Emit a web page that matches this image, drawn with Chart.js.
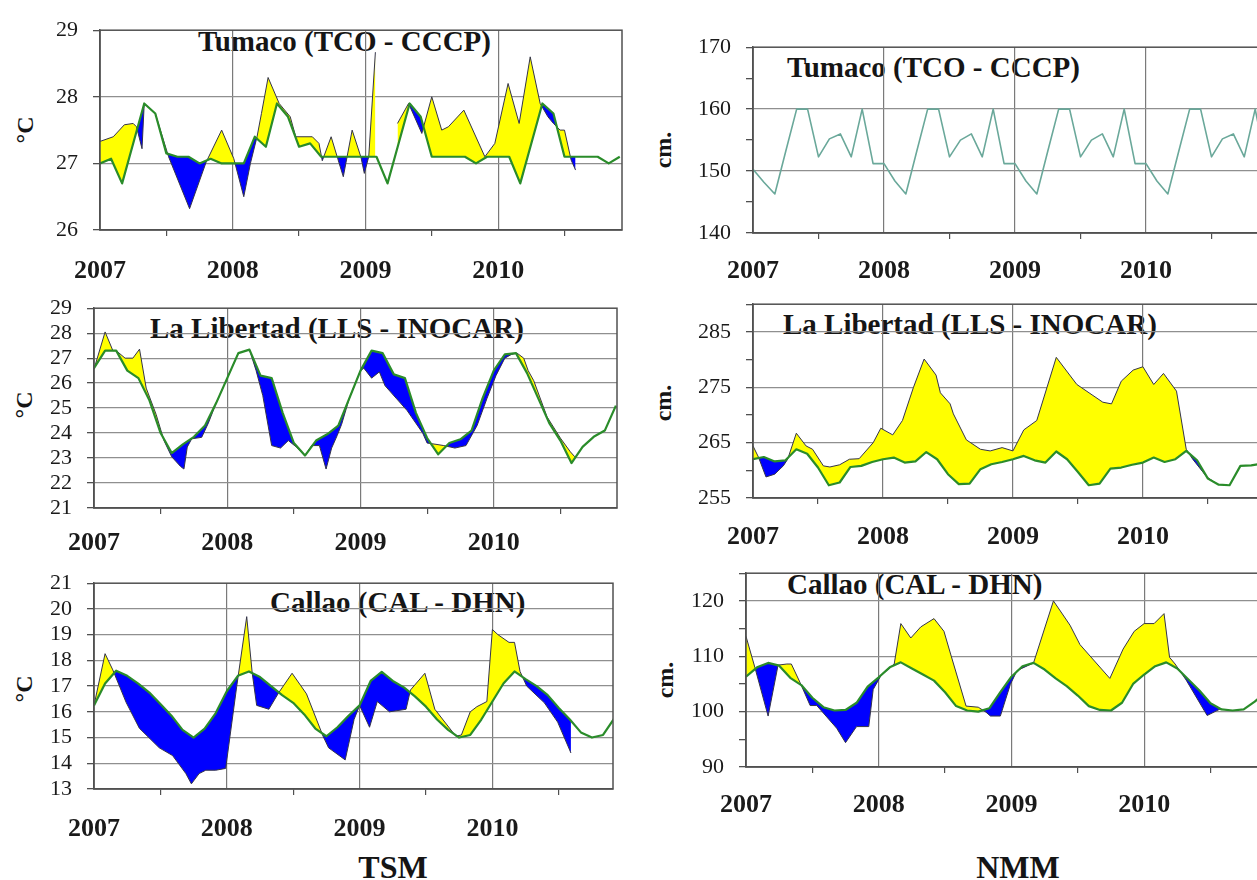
<!DOCTYPE html>
<html>
<head>
<meta charset="utf-8">
<title>TSM y NMM 2007-2010</title>
<script src="https://cdn.jsdelivr.net/npm/chart.js@4.4.1/dist/chart.umd.min.js"></script>
<style>
  html, body { margin: 0; padding: 0; background: #ffffff; }
  body { width: 1257px; height: 880px; overflow: hidden; position: relative;
         font-family: "Liberation Serif", "Times New Roman", serif; color: #151515; }
  canvas { position: absolute; }
  .lbl { position: absolute; white-space: nowrap; line-height: 1; font-weight: bold; }
  .ttl { font-size: 29px; transform: translateY(-50%); }
  .ax  { font-size: 24px; transform: translate(-50%, -50%) rotate(-90deg); }
  .foot { font-size: 32px; transform: translate(-50%, -50%); }
</style>
</head>
<body>

<div class="lbl ttl" style="left:198px; top:41px;">Tumaco (TCO - CCCP)</div>
<div class="lbl ttl" style="left:150px; top:328px;">La Libertad (LLS - INOCAR)</div>
<div class="lbl ttl" style="left:270px; top:602px;">Callao (CAL - DHN)</div>
<div class="lbl ttl" style="left:787px; top:67px;">Tumaco (TCO - CCCP)</div>
<div class="lbl ttl" style="left:783px; top:324px;">La Libertad (LLS - INOCAR)</div>
<div class="lbl ttl" style="left:787px; top:584px;">Callao (CAL - DHN)</div>

<div class="lbl ax" style="left:25px; top:130px;">°C</div>
<div class="lbl ax" style="left:24px; top:405px;">°C</div>
<div class="lbl ax" style="left:24px; top:689px;">°C</div>
<div class="lbl ax" style="left:663px; top:150px;">cm.</div>
<div class="lbl ax" style="left:663px; top:403px;">cm.</div>
<div class="lbl ax" style="left:665px; top:680px;">cm.</div>

<div class="lbl foot" style="left:393px; top:867px;">TSM</div>
<div class="lbl foot" style="left:1018px; top:867px;">NMM</div>

<script>
// ---------------------------------------------------------------------------
// Data. x values are months counted from January 2007 (0 = Jan 2007).
// "Clim" series are monthly (one value per month); observed series carry
// their own month positions.
// ---------------------------------------------------------------------------
const yearLabels = ['2007', '2008', '2009', '2010'];

// Tumaco - sea surface temperature (°C)
const tumacoTsmClim = [
  27.0, 27.07, 26.7, 27.3, 27.9, 27.75, 27.15, 27.1, 27.1, 27.0, 27.07, 27.0,
  27.0, 27.0, 27.4, 27.25, 27.9, 27.7, 27.25, 27.3, 27.1, 27.1, 27.1, 27.1,
  27.1, 27.1, 26.7, 27.3, 27.9, 27.7, 27.1, 27.1, 27.1, 27.1, 27.0, 27.1,
  27.1, 27.1, 26.7, 27.3, 27.9, 27.75, 27.1, 27.1, 27.1, 27.1, 27.0, 27.1
];
const tumacoTsmObsMonth = [
  0, 1.2, 2.2, 3.0, 3.3, 3.8, 4.0, 5.0, 6.2, 8.1, 9.6, 11.0, 12.1, 13.0, 13.6,
  14.2, 14.6, 15.2, 16.2, 17.2, 17.7, 19.2, 19.8, 20.1, 20.9, 21.5, 22.0, 22.8,
  23.6, 23.9, 24.3, 24.9, 25.0, 26.9, 27.9, 29.1, 30.0, 30.9, 31.5, 32.9, 34.8,
  35.7, 36.9, 37.9, 38.9, 39.8, 40.5, 41.0, 41.6, 42.0, 42.6, 43.0
];
const tumacoTsmObs = [
  27.33, 27.4, 27.58, 27.6, 27.55, 27.22, 27.9, 27.75, 27.1, 26.32, 27.02, 27.5, 27.07, 26.5, 27.0,
  27.4, 27.75, 28.29, 27.9, 27.7, 27.4, 27.4, 27.3, 27.04, 27.4, 27.07, 26.8, 27.5,
  27.09, 26.85, 27.1, 28.67, null, 27.6, 27.9, 27.45, 28.0, 27.5, 27.55, 27.8, 27.1,
  27.3, 28.2, 27.6, 28.6, 27.9, 27.7, 27.6, 27.5, 27.5, 27.05, 26.9
];

// La Libertad - sea surface temperature (°C)
const libertadTsmClim = [
  26.6, 27.3, 27.3, 26.5, 26.2, 25.3, 24.0, 23.2, 23.55, 23.85, 24.3, 25.2,
  26.2, 27.2, 27.34, 26.3, 26.2, 24.8, 23.6, 23.1, 23.7, 23.95, 24.3, 25.4,
  26.5, 27.3, 27.2, 26.35, 26.2, 24.8, 23.8, 23.15, 23.6, 23.75, 24.1, 25.4,
  26.5, 27.15, 27.2, 26.4, 25.4, 24.4, 23.7, 22.8, 23.45, 23.85, 24.1, 25.1
];
const libertadTsmObsMonth = [
  0, 1.0, 1.7, 2.0, 2.8, 3.5, 4.1, 4.7, 5.6, 6.3, 7.0, 7.8, 8.1, 8.4, 8.8, 9.7,
  10.3, 11, 12, 13, 14, 14.6, 15.2, 16.0, 16.8, 17.5, 18.2, 19.0, 19.6, 20.3, 20.9,
  21.4, 21.9, 22.3, 23, 24, 24.3, 25.0, 25.7, 26.2, 27.2, 28.2, 29.6, 30.0, 30.8,
  31.5, 32.5, 33.5, 34.5, 35.4, 36.2, 37.0, 37.6, 38.1, 38.7, 39.1, 39.6, 40.8,
  42.0, 42.9, 43.3
];
const libertadTsmObs = [
  26.56, 28.05, 27.3, 27.3, 27.0, 27.0, 27.36, 25.8, 24.74, 23.7, 23.05, 22.66, 22.56, 23.44, 23.77, 23.83,
  24.4, 25.2, 26.2, 27.2, 27.34, 26.5, 25.5, 23.5, 23.4, 23.7, 23.45, 23.1, 23.5, 23.5, 22.56,
  23.4, 23.9, 24.35, 25.4, 26.5, 26.6, 26.2, 26.45, 25.9, 25.4, 24.9, 24.0, 23.6, 23.55,
  23.5, 23.4, 23.5, 24.3, 25.4, 26.3, 27.0, 27.15, 27.2, 27.0, 26.5, 26.1, 24.65,
  23.8, 23.25, 23.05
];

// Callao - sea surface temperature (°C)
const callaoTsmClim = [
  16.25, 17.1, 17.6, 17.4, 17.1, 16.75, 16.3, 15.85, 15.3, 15.0, 15.35, 15.95,
  16.8, 17.4, 17.57, 17.35, 17.0, 16.65, 16.35, 15.9, 15.35, 15.05, 15.4, 15.85,
  16.25, 17.2, 17.55, 17.2, 16.95, 16.6, 16.2, 15.7, 15.3, 15.0, 15.1, 15.7,
  16.4, 17.1, 17.57, 17.27, 17.0, 16.65, 16.15, 15.7, 15.2, 15.0, 15.1, 15.74
];
const callaoTsmObsMonth = [
  0, 1.0, 1.7, 2.9, 4.1, 5.9, 7.1, 8.3, 8.8, 9.5, 10.1, 11.0, 11.9, 12.9, 13.8,
  14.3, 14.7, 15.8, 16.7, 17.9, 19.2, 20.7, 21.2, 22.7, 23.5, 24.0, 24.9, 25.6,
  26.7, 28.2, 28.6, 29.9, 30.8, 32.7, 33.2, 34.0, 34.6, 35.5, 36.0, 36.5, 37.5,
  38.0, 38.5, 39.1, 40.7, 41.9, 43.1
];
const callaoTsmObs = [
  16.25, 18.26, 17.63, 16.37, 15.36, 14.6, 14.3, 13.6, 13.2, 13.6, 13.73, 13.73, 13.8, 17.0, 19.7,
  17.5, 16.25, 16.1, 16.75, 17.5, 16.7, 15.05, 14.6, 14.13, 15.7, 16.25, 15.4, 16.4,
  16.0, 16.1, 16.85, 17.5, 16.1, 15.05, 15.1, 16.0, 16.2, 16.4, 19.2, 19.0, 18.7,
  18.7, 17.57, 17.0, 16.35, 15.6, 14.4
];

// Tumaco - mean sea level (cm)
const tumacoNmm = [
  150.3, 148.2, 146.3, 153.2, 160.0, 160.0, 152.3, 155.2, 156.0, 152.3, 160.0, 151.2,
  151.2, 148.4, 146.3, 153.2, 160.0, 160.0, 152.3, 155.0, 156.0, 152.3, 160.0, 151.2,
  151.2, 148.4, 146.3, 153.2, 160.0, 160.0, 152.3, 155.0, 156.0, 152.3, 160.0, 151.2,
  151.2, 148.4, 146.3, 153.2, 160.0, 160.0, 152.3, 155.2, 156.0, 152.3, 160.0, 151.2,
  151.2, 148.4
];

// La Libertad - mean sea level (cm)
const libertadNmmClim = [
  262.0, 262.4, 261.6, 261.8, 263.8, 263.0, 260.5, 257.3, 257.8, 260.6, 260.8, 261.5,
  262.0, 262.3, 261.4, 261.6, 263.3, 262.0, 259.3, 257.5, 257.6, 260.2, 261.1, 261.5,
  262.0, 262.6, 261.8, 261.4, 263.4, 262.0, 259.7, 257.3, 257.6, 260.3, 260.5, 261.0,
  261.4, 262.3, 261.5, 262.0, 263.5, 261.8, 258.5, 257.4, 257.3, 260.8, 260.9, 261.2,
  261.6, 262.0
];
const libertadNmmObsMonth = [
  0, 0.5, 1.2, 2.0, 2.8, 3.2, 4.0, 4.9, 5.5, 6.5, 7.1, 8.0, 8.9, 9.8, 11.1, 11.8,
  12.9, 13.8, 14.8, 15.8, 16.9, 17.3, 18.2, 18.5, 19.7, 21.0, 21.9, 23.0, 24.0,
  25.0, 26.2, 28.0, 29.9, 32.3, 33.1, 34.0, 35.1, 36.0, 37.0, 37.9, 39.1, 40.0,
  40.6, 41.9, 42.8
];
const libertadNmmObs = [
  264.4, 262.4, 258.8, 259.3, 260.8, 262.0, 266.7, 264.4, 263.8, 260.8, 260.6, 261.0, 262.0, 262.1, 265.0, 267.6,
  266.4, 269.0, 274.9, 280.1, 277.2, 274.0, 272.0, 270.2, 265.5, 263.8, 263.5, 264.1, 263.5,
  267.3, 269.0, 280.4, 275.5, 272.3, 272.0, 276.1, 278.1, 278.7, 275.5, 277.5, 274.3, 263.8,
  262.0, 258.8, 257.6
];

// Callao - mean sea level (cm)
const callaoNmmClim = [
  106.3, 108.0, 108.8, 108.3, 106.1, 104.8, 102.5, 100.8, 100.2, 100.3, 101.6, 104.5,
  106.2, 108.0, 108.9, 107.8, 106.7, 105.6, 103.5, 101.0, 100.2, 100.0, 100.6, 103.5,
  106.3, 108.2, 108.8, 107.6, 106.0, 104.6, 102.9, 101.0, 100.3, 100.2, 101.6, 105.0,
  106.7, 108.2, 108.9, 107.8, 105.8, 103.8, 101.5, 100.4, 100.2, 100.4, 101.8, 103.5,
  106.3, 108.0
];
const callaoNmmObsMonth = [
  0, 0.8, 2.0, 2.9, 3.7, 4.1, 4.9, 5.8, 6.4, 8.2, 9.0, 10.0, 11.1, 11.5, 12.2, 13.4,
  14.0, 14.9, 15.8, 17.0, 17.9, 18.5, 19.9, 21.0, 21.7, 22.1, 23.0, 23.9, 24.5, 26.0,
  27.8, 29.3, 30.2, 32.9, 34.1, 35.1, 36.0, 36.9, 37.8, 38.3, 38.8, 39.8, 41.7, 42.9
];
const callaoNmmObs = [
  113.6, 108.0, 99.2, 108.4, 108.6, 108.6, 105.2, 101.1, 101.1, 97.0, 94.4, 97.3, 97.3, 104.0, 106.5, 108.6,
  115.9, 113.3, 115.3, 116.8, 114.5, 110.4, 101.0, 100.8, 99.9, 99.2, 99.2, 104.9, 107.4, 108.8,
  120.0, 115.6, 112.1, 106.0, 111.3, 114.5, 115.9, 115.9, 117.7, 109.8, 108.6, 105.7, 99.3, 100.5
];

// ---------------------------------------------------------------------------
// Drawing helpers
// ---------------------------------------------------------------------------
const FONT = "'Liberation Serif', 'Times New Roman', serif";
const xTickMonths = [0, 6, 12, 18, 24, 30, 36, 42];
const AXIS = '#505050';
const GRID = '#8f8f8f';
const ABOVE = '#ffff00';
const BELOW = '#0000ff';

const monthly = values => values.map((v, i) => ({ x: i, y: v }));
const paired = (xs, ys) => xs.map((x, i) => ({ x, y: ys[i] }));

// closes the plot box (top and right edges)
const framePlugin = {
  id: 'frame',
  afterDatasetsDraw(chart) {
    const { ctx, chartArea: a } = chart;
    ctx.save();
    ctx.strokeStyle = AXIS;
    ctx.lineWidth = 1.5;
    ctx.strokeRect(a.left, a.top, a.right - a.left, a.bottom - a.top);
    ctx.restore();
  }
};

function drawPanel(p) {
  const canvasTop = p.area.t - 22;
  const width = p.area.r + 10 - p.canvasLeft;
  const height = p.area.b + 72 - canvasTop;
  const cv = document.createElement('canvas');
  cv.width = width;
  cv.height = height;
  cv.style.left = p.canvasLeft + 'px';
  cv.style.top = canvasTop + 'px';
  document.body.appendChild(cv);

  const yAxisWidth = p.area.l - p.canvasLeft;
  const xAxisHeight = height - (p.area.b - canvasTop);

  const datasets = [];
  if (p.clim) {
    datasets.push({
      data: monthly(p.clim), borderColor: '#2a8c2a', borderWidth: 2.2,
      pointRadius: 0, fill: false, order: 1, borderJoinStyle: 'round'
    });
    datasets.push({
      data: paired(p.obsX, p.obsY), borderColor: '#34344a', borderWidth: 1,
      pointRadius: 0, order: 2, borderJoinStyle: 'round',
      fill: { target: '-1', above: ABOVE, below: BELOW }
    });
  } else {
    datasets.push({
      data: monthly(p.single), borderColor: '#6aa89a', borderWidth: 1.6,
      pointRadius: 0, fill: false, borderJoinStyle: 'round'
    });
  }

  new Chart(cv, {
    type: 'line',
    data: { datasets },
    plugins: [framePlugin],
    options: {
      responsive: false, animation: false, devicePixelRatio: 1, events: [],
      layout: { padding: { top: p.area.t - canvasTop, right: 10, left: 0, bottom: 0 } },
      plugins: { legend: { display: false }, tooltip: { enabled: false }, title: { display: false } },
      elements: { line: { tension: 0 } },
      scales: {
        x: {
          type: 'linear', min: 0, max: p.xMax,
          afterBuildTicks: s => { s.ticks = xTickMonths.map(v => ({ value: v })); },
          afterFit: s => { s.height = xAxisHeight; },
          ticks: {
            autoSkip: false, maxRotation: 0, padding: p.yearPad, color: '#1a1a1a',
            font: { family: FONT, size: 26, weight: 'bold' },
            callback: v => (v % 12 === 0 ? yearLabels[v / 12] : '')
          },
          grid: {
            color: c => (c.tick && c.tick.value % 12 === 0 && c.tick.value > 0 ? '#7a7a7a' : 'rgba(0,0,0,0)'),
            tickColor: c => (c.tick && c.tick.value % 12 === 6 ? AXIS : 'rgba(0,0,0,0)'),
            tickLength: 6, lineWidth: 1.2
          },
          border: { color: AXIS, width: 1.5 }
        },
        y: {
          min: p.yMin, max: p.yMax,
          afterBuildTicks: s => { s.ticks = p.yTicks.map(v => ({ value: v })); },
          afterFit: s => { s.width = yAxisWidth; },
          ticks: {
            autoSkip: false, padding: 15, color: '#1a1a1a', font: { family: FONT, size: 22 },
            callback: v => (p.yLabels.includes(v) ? String(v) : '')
          },
          grid: {
            color: c => (c.tick && p.yGrid.includes(c.tick.value) ? GRID : 'rgba(0,0,0,0)'),
            tickColor: AXIS, tickLength: 7, lineWidth: 1.3
          },
          border: { color: AXIS, width: 1.5 }
        }
      }
    }
  });
}

// ---------------------------------------------------------------------------
// Panels (plot boxes in page pixels)
// ---------------------------------------------------------------------------
drawPanel({
  canvasLeft: 0, area: { l: 100, t: 24, r: 622, b: 230 }, xMax: 47.2, yearPad: 20,
  yMin: 26, yMax: 29, yTicks: [26, 27, 28, 29], yLabels: [26, 27, 28, 29], yGrid: [27, 28],
  clim: tumacoTsmClim, obsX: tumacoTsmObsMonth, obsY: tumacoTsmObs
});
drawPanel({
  canvasLeft: 0, area: { l: 94, t: 302, r: 617, b: 508 }, xMax: 47.1, yearPad: 14,
  yMin: 21, yMax: 29, yTicks: [21, 22, 23, 24, 25, 26, 27, 28, 29],
  yLabels: [21, 22, 23, 24, 25, 26, 27, 28, 29], yGrid: [22, 23, 24, 25, 26, 27, 28],
  clim: libertadTsmClim, obsX: libertadTsmObsMonth, obsY: libertadTsmObs
});
drawPanel({
  canvasLeft: 0, area: { l: 94, t: 577, r: 613, b: 789 }, xMax: 46.9, yearPad: 19,
  yMin: 13, yMax: 21, yTicks: [13, 14, 15, 16, 17, 18, 19, 20, 21],
  yLabels: [13, 14, 15, 16, 17, 18, 19, 20, 21], yGrid: [14, 15, 16, 17, 18, 19, 20],
  clim: callaoTsmClim, obsX: callaoTsmObsMonth, obsY: callaoTsmObs
});
drawPanel({
  canvasLeft: 640, area: { l: 753, t: 41, r: 1290, b: 233 }, xMax: 49.19, yearPad: 17,
  yMin: 140, yMax: 170, yTicks: [140, 145, 150, 155, 160, 165, 170],
  yLabels: [140, 150, 160, 170], yGrid: [150, 160],
  single: tumacoNmm
});
drawPanel({
  canvasLeft: 640, area: { l: 753, t: 298, r: 1290, b: 498 }, xMax: 49.58, yearPad: 18,
  yMin: 255, yMax: 290, yTicks: [255, 260, 265, 270, 275, 280, 285, 290],
  yLabels: [255, 265, 275, 285], yGrid: [265, 275, 285],
  clim: libertadNmmClim, obsX: libertadNmmObsMonth, obsY: libertadNmmObs
});
drawPanel({
  canvasLeft: 640, area: { l: 746, t: 567, r: 1290, b: 767 }, xMax: 49.19, yearPad: 17,
  yMin: 90, yMax: 125, yTicks: [90, 95, 100, 105, 110, 115, 120, 125],
  yLabels: [90, 100, 110, 120], yGrid: [100, 110, 120],
  clim: callaoNmmClim, obsX: callaoNmmObsMonth, obsY: callaoNmmObs
});
</script>
</body>
</html>
